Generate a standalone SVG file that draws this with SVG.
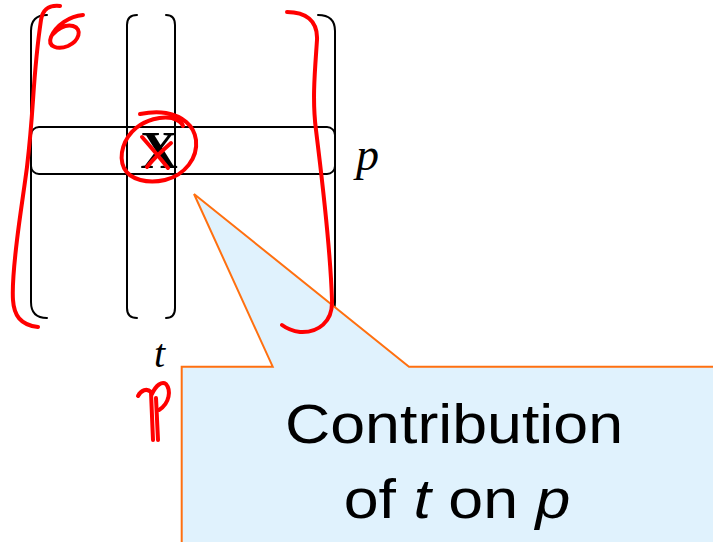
<svg xmlns="http://www.w3.org/2000/svg" width="713" height="542" viewBox="0 0 713 542">
<style>
.blk{fill:none;stroke:#000;stroke-width:2;stroke-linecap:round}
.red{fill:none;stroke:#ff0000;stroke-width:4;stroke-linecap:round;stroke-linejoin:round}
.serif{font-family:"Liberation Serif","Times New Roman",serif;fill:#000}
.sans{font-family:"Liberation Sans",Arial,sans-serif;fill:#000;font-size:56px}
</style>
<rect width="713" height="542" fill="#fff"/>
<g id="matrix">
  <path class="blk" d="M47,15 Q31,15 31,31 L31,302 Q31,318 47,318"/>
  <path class="blk" d="M318,15 Q335,15 335,31 L335,302 Q335,318 318,318"/>
  <path class="blk" d="M137,15 Q127,15 127,25 L127,308 Q127,318 137,318"/>
  <path class="blk" d="M166,15 Q175,15 175,25 L175,308 Q175,318 166,318"/>
  <rect class="blk" x="31" y="127" width="304" height="47" rx="8"/>
  <text class="serif" x="159" y="168" font-size="52" font-weight="bold" text-anchor="middle">X</text>
</g>
<g id="label-p">
  <text class="serif" x="356" y="170" font-size="46" font-style="italic">p</text>
</g>
<g id="label-t">
  <text class="serif" x="154" y="367" font-size="40" font-style="italic">t</text>
</g>
<g id="callout">
  <polygon points="181.7,366.7 272.7,366.7 194,194 409,366.7 725,366.7 725,555 181.7,555" fill="#e0f2fd" stroke="#ff7010" stroke-width="2" stroke-linejoin="miter"/>
  <g transform="translate(454,443) scale(1.12,1)">
    <text class="sans" x="0" y="0" text-anchor="middle">Contribution</text>
  </g>
  <g transform="translate(457,518) scale(1.12,1)">
    <text class="sans" x="0" y="0" text-anchor="middle">of <tspan font-style="italic">t</tspan> on <tspan font-style="italic">p</tspan></text>
  </g>
</g>
<g id="annotations">
  <path class="red" d="M60,6 C50,5 43,8 41,20 C38,40 35,70 33,100 C31,130 29,150 27,167 C24,190 20,215 17,240 C14,265 12,285 13,300 C14,315 20,325 38,327"/>
  <path class="red" d="M83,15 C70,16 56,25 51,37 C47,47 58,50 68,46 C79,41 83,29 73,26 C65,24 57,30 53,34"/>
  <path class="red" d="M287,12 C305,12 318,20 317,40 C315,70 312,100 316,130 C322,180 330,240 332,300 C333,322 318,333 300,332 C292,331 286,328 282,325"/>
  <path class="red" d="M140,114 C150,112 160,112 166,113 C182,116 194,125 196,140 C198,158 185,175 165,180 C148,184 130,180 124,168 C118,155 124,138 136,128 C146,120 160,116 172,118 C178,120 182,123 183,126"/>
  <path class="red" d="M142,137 C150,146 160,158 168,168"/>
  <path class="red" d="M171,143 C163,150 154,158 147,167"/>
  <path class="red" d="M138,396 C141,390 147,388 151,392 L153,440"/>
  <path class="red" d="M156,398 L158,440"/>
  <path class="red" d="M152,394 C156,385 162,381 166,384 C171,390 170,403 159,410"/>
</g>
</svg>
